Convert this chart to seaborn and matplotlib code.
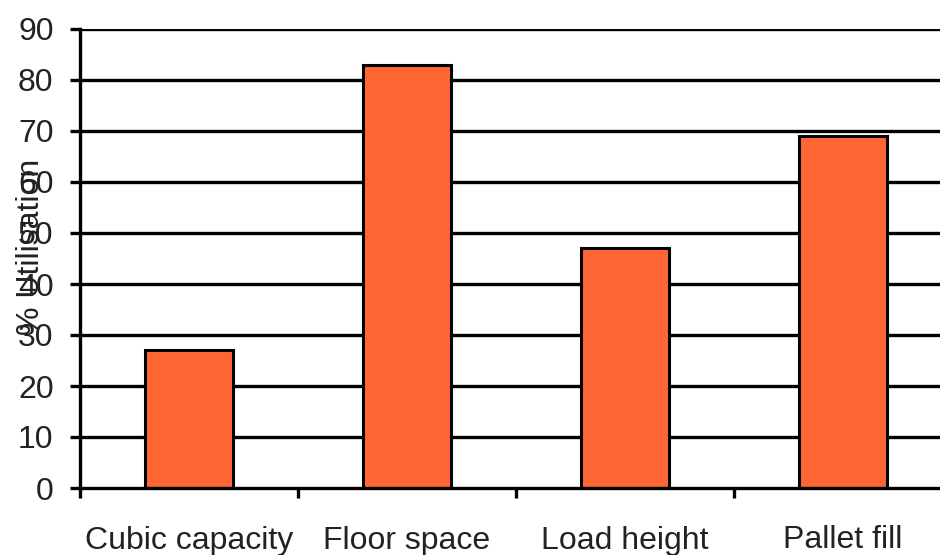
import matplotlib
matplotlib.use("Agg")
import matplotlib.pyplot as plt
import seaborn as sns
import pandas as pd
from matplotlib.ticker import FixedLocator

categories = ["Cubic capacity", "Floor space", "Load height", "Pallet fill"]
utilisation = [27, 83, 47, 69]
y_ticks = [0, 10, 20, 30, 40, 50, 60, 70, 80, 90]
y_label = "% Utilisation"

df = pd.DataFrame({"category": categories, "value": utilisation})

sns.set_style("white")
plt.rcParams["font.family"] = ["Liberation Sans", "DejaVu Sans"]

fig = plt.figure(figsize=(9.4, 5.55), dpi=100)
W, H = 940, 555
left, right, top, bottom = 80, 952, 29, 488
ax = fig.add_axes([left / W, (H - bottom) / H, (right - left) / W, (bottom - top) / H])

sns.barplot(data=df, x="category", y="value", color="#FF6633", saturation=1,
            edgecolor="black", linewidth=2.2, width=0.4, ax=ax, zorder=3)

ax.set_ylim(0, 90)
ax.set_xlim(-0.5, 3.5)
ax.set_yticks(y_ticks)
for yv in y_ticks[1:]:
    ax.axhline(yv, color="black", lw=2.4, zorder=1)

for side in ["top", "right"]:
    ax.spines[side].set_visible(False)
for side in ["left", "bottom"]:
    ax.spines[side].set_color("black")
    ax.spines[side].set_linewidth(2.4)
    ax.spines[side].set_zorder(4)

ax.tick_params(axis="y", direction="out", length=7, width=2.4, color="black",
               labelsize=23, pad=12, labelcolor="#222222", left=True)
ax.tick_params(axis="x", which="major", length=0, labelsize=23, pad=27,
               labelcolor="#222222")
ax.xaxis.set_minor_locator(FixedLocator([-0.5, 0.5, 1.5, 2.5, 3.5]))
ax.tick_params(axis="x", which="minor", direction="out", length=7, width=2.4,
               color="black", bottom=True)

ax.set_xlabel("")
ax.set_ylabel(y_label, fontsize=23, color="#222222")
ax.yaxis.set_label_coords(-0.039, 0.525)

fig.savefig("out.png", dpi=100)
